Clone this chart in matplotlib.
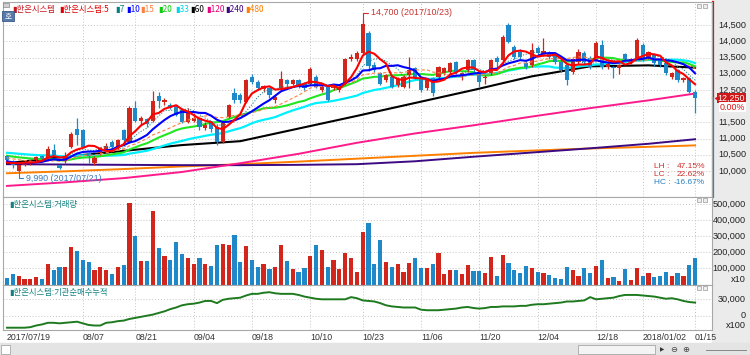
import numpy as np
import pandas as pd
import matplotlib
matplotlib.use('Agg')
import matplotlib.pyplot as plt
from matplotlib.patches import Rectangle
from matplotlib.transforms import blended_transform_factory

plt.rcParams['font.family'] = ['Noto Sans CJK KR', 'DejaVu Sans']
NUM = ['Liberation Sans', 'DejaVu Sans']

# ---- daily candles 2017/07/19 .. 2018/01/15 (119 trading days) ----
open_ = [10450, 10300, 10000, 10200, 10220, 10350, 10470, 10400, 10650, 10180,
         10300, 10750, 11300, 11250, 10550, 10250, 10550, 10650, 10900, 10700,
         11250, 10900, 11950, 11550, 11600, 11550, 12300, 12140, 12050, 12000,
         11880, 11520, 11550, 11620, 11320, 11500, 11370, 10900, 11680, 12400,
         12340, 12140, 12900, 12750, 12520, 12550, 12190, 12550, 12800, 12700,
         12800, 12700, 12700, 12900, 12500, 12600, 12550, 12500, 12700, 13450,
         13470, 13630, 14250, 13270, 13010, 12800, 12900, 12650, 12600, 12960,
         13170, 12800, 12550, 12860, 12910, 13020, 13060, 13370, 12960, 13120,
         13420, 13010, 12860, 13010, 13480, 13430, 14500, 13840, 13680, 13320,
         13270, 13790, 13600, 13630, 13580, 13370, 13270, 13050, 13370, 13630,
         13480, 13430, 13890, 13220, 13220, 13170, 13600, 13370, 13480, 13890,
         13530, 13580, 13430, 13320, 12910, 13110, 12810, 12860, 12450]
high = [10500, 10350, 10200, 10300, 10330, 10450, 10500, 10780, 10830, 10200,
        10600, 11200, 11650, 11300, 10600, 10450, 10750, 10850, 10950, 11000,
        11300, 12000, 12150, 11700, 11650, 12480, 12450, 12250, 12100, 12050,
        11950, 11950, 11800, 11650, 11500, 11550, 11450, 11500, 12080, 12550,
        12400, 12850, 13000, 12800, 12650, 12600, 12350, 13100, 12850, 12850,
        12850, 12750, 13200, 12950, 12650, 12650, 12700, 12700, 13500, 13600,
        13700, 14700, 14330, 13350, 13050, 13000, 12950, 12900, 12950, 13530,
        13200, 12850, 12850, 12900, 13250, 13200, 13350, 13400, 13050, 13450,
        13450, 13050, 12950, 13450, 13550, 14200, 14580, 13900, 13750, 13400,
        13940, 13850, 14100, 13700, 13650, 13450, 13300, 13500, 13750, 13700,
        13550, 14000, 14040, 13400, 13250, 13300, 13650, 13500, 14100, 13950,
        13700, 13650, 13450, 13350, 13050, 13150, 12900, 12900, 12500]
low = [10300, 10100, 9990, 10150, 10180, 10300, 10350, 10350, 10450, 10050,
       10250, 10700, 10800, 10700, 10250, 10200, 10500, 10600, 10700, 10650,
       10800, 10850, 11500, 11450, 11350, 11500, 11950, 12050, 11900, 11700,
       11480, 11480, 11500, 11250, 11250, 11200, 10800, 10850, 11650, 12100,
       12100, 12100, 12700, 12500, 12450, 12250, 12100, 12500, 12600, 12650,
       12550, 12500, 12650, 12550, 12450, 12150, 12500, 12450, 12650, 13400,
       13400, 13600, 13100, 13050, 12650, 12750, 12550, 12600, 12550, 12550,
       12850, 12450, 12500, 12300, 12850, 12950, 13000, 13000, 12800, 13050,
       13050, 12600, 12700, 12950, 13220, 13400, 13950, 13450, 13450, 13150,
       13200, 13550, 13550, 13450, 13300, 13050, 12650, 13000, 13300, 13300,
       13150, 13400, 13150, 13150, 12860, 13000, 13400, 13300, 13450, 13400,
       13450, 13250, 13200, 12950, 12850, 12750, 12750, 12400, 11780]
close = [10350, 10180, 10180, 10280, 10300, 10420, 10400, 10680, 10500, 10100,
         10460, 11150, 11100, 10750, 10450, 10400, 10700, 10780, 10750, 10950,
         10950, 11950, 11550, 11650, 11450, 12150, 12150, 12190, 11930, 11730,
         11520, 11800, 11650, 11370, 11420, 11300, 10900, 11470, 12030, 12190,
         12190, 12800, 12750, 12550, 12620, 12350, 12290, 12830, 12700, 12800,
         12600, 12550, 13150, 12600, 12600, 12190, 12650, 12650, 13450, 13530,
         13630, 14550, 13250, 13120, 12700, 12950, 12600, 12850, 12900, 13120,
         12900, 12500, 12800, 12400, 13220, 13170, 13320, 13060, 13020, 13430,
         13120, 12760, 12910, 13420, 13370, 14150, 13990, 13530, 13530, 13220,
         13730, 13630, 13700, 13530, 13370, 13120, 12810, 13450, 13680, 13370,
         13220, 13960, 13220, 13300, 13170, 13270, 13450, 13470, 14040, 13480,
         13680, 13320, 13270, 13010, 13010, 12810, 12860, 12450, 12250]
# displayed volume (chart unit x10)
volume = [39000, 65000, 56000, 35000, 35000, 45000, 35000, 126000, 89000, 108000,
          110000, 234000, 206000, 154000, 141000, 93000, 108000, 89000, 65000, 110000,
          119000, 509000, 299000, 147000, 147000, 457000, 227000, 180000, 154000, 262000,
          190000, 165000, 126000, 165000, 126000, 115000, 245000, 253000, 249000, 310000,
          143000, 240000, 154000, 106000, 128000, 97000, 108000, 249000, 147000, 97000,
          78000, 102000, 180000, 245000, 216000, 106000, 154000, 97000, 197000, 165000,
          78000, 327000, 385000, 126000, 277000, 141000, 108000, 130000, 76000, 136000,
          167000, 104000, 104000, 130000, 197000, 65000, 93000, 89000, 65000, 121000,
          82000, 82000, 69000, 171000, 56000, 184000, 134000, 89000, 69000, 117000,
          104000, 76000, 69000, 61000, 43000, 37000, 110000, 93000, 50000, 104000,
          69000, 117000, 152000, 39000, 48000, 24000, 95000, 26000, 104000, 56000,
          69000, 48000, 54000, 76000, 56000, 69000, 56000, 121000, 165000]
# institutional net buying, cumulative (chart unit x100)
inst_cum = [-22000, -22000, -22000, -22000, -21000, -18000, -16000, -13000, -13000, -14000,
            -13000, -12000, -11000, -14000, -17000, -18000, -18000, -13000, -12000, -10000,
            -9000, -6000, -4000, -2000, 0, 2000, 5000, 8000, 12000, 15000,
            19000, 21000, 22000, 24000, 27000, 27000, 23000, 29000, 31000, 32000,
            33000, 37000, 40000, 40000, 42000, 43000, 41000, 40000, 40000, 40000,
            38000, 35000, 33000, 31000, 30000, 30000, 30000, 30000, 30000, 34000,
            32000, 28000, 27000, 26000, 23000, 19000, 17000, 16000, 15000, 15000,
            15000, 11000, 10000, 10000, 10000, 11000, 12000, 13000, 15000, 16000,
            14000, 13000, 14000, 16000, 16000, 17000, 17000, 17000, 18000, 18000,
            20000, 21000, 21000, 22000, 23000, 24000, 26000, 26000, 27000, 28000,
            34000, 30000, 31000, 32000, 33000, 36000, 38000, 38000, 38000, 37000,
            36000, 35000, 33000, 31000, 32000, 30000, 27000, 25000, 24000]
# closes before 2017/07/19, only used to start the short moving averages
pre_close = [10650, 10700, 10750, 10800, 10750, 10700, 10650, 10700, 10750, 10700,
             10650, 10650, 10700, 10700, 10650, 10600, 10650, 10700, 10650, 10600,
             10600, 10650, 10600, 10500, 10400, 10350, 10250, 10200, 10250, 10200,
             10200, 10300]
# long moving averages at every 10th candle
long_idx = [0, 10, 20, 30, 40, 50, 60, 70, 80, 90, 100, 110, 118]
ma60 = [10240, 10440, 10620, 10800, 10920, 11310, 11700, 12100, 12500, 12920, 13230, 13260, 13190]
ma120 = [9540, 9650, 9780, 9970, 10240, 10530, 10870, 11160, 11410, 11680, 11940, 12180, 12390]
ma240 = [10210, 10200, 10190, 10180, 10180, 10190, 10210, 10300, 10440, 10570, 10700, 10840, 10980]
ma480 = [9930, 9990, 10060, 10140, 10210, 10290, 10380, 10470, 10560, 10630, 10695, 10745, 10790]

tick_idx = [0, 13, 22, 32, 42, 52, 61, 71, 81, 91, 101, 109, 118]
tick_lbl = ['2017/07/19', '08/07', '08/21', '09/04', '09/18', '10/10', '10/23',
            '11/06', '11/20', '12/04', '12/18', '2018/01/02', '01/15']
price_ticks = [10000, 10500, 11000, 11500, 12000, 12500, 13000, 13500, 14000, 14500]
vol_ticks = [100000, 200000, 300000, 400000, 500000]
inst_ticks = [0, 30000]

RED = '#d2261d'
BLUE = '#1f88c9'
GRID = '#c4c4c4'

W, H = 750, 355
def box(l, t, r, b):
    return [l / W, 1 - b / H, (r - l) / W, (b - t) / H]
def fx(p):
    return p / W
def fy(p):
    return 1 - p / H

fig = plt.figure(figsize=(7.5, 3.55), dpi=100, facecolor='white')
fig.patches.append(Rectangle((fx(712), fy(343)), fx(750) - fx(712), fy(0) - fy(343),
                             transform=fig.transFigure, color='#ebebeb', zorder=-2))
fig.patches.append(Rectangle((0, 0), 1, fy(343), transform=fig.transFigure,
                             color='#e4e4e4', zorder=-2))

ax1 = fig.add_axes(box(3, 2, 712, 196.5))
ax2 = fig.add_axes(box(3, 197, 712, 284.5), sharex=ax1)
ax3 = fig.add_axes(box(3, 285, 712, 330), sharex=ax1)

x = np.arange(len(close))
o = np.array(open_); c = np.array(close)
up = c > o
col = np.where(up, RED, BLUE)

s = pd.Series(pre_close + close, dtype=float)
short_ma = {n: s.rolling(n).mean().iloc[len(pre_close):].to_numpy() for n in (5, 7, 10, 15, 20, 33)}

# long MAs behind everything
ax1.plot(long_idx, ma480, color='#ff8000', lw=1.4, zorder=2)
ax1.plot(long_idx, ma240, color='#3c0a82', lw=1.4, zorder=2)
ax1.plot(long_idx, ma120, color='#ff1a8c', lw=1.4, zorder=2)
ax1.plot(long_idx, ma60, color='black', lw=1.5, zorder=2)
ax1.plot(x, short_ma[33], color='#00f0ff', lw=1.6, zorder=2)
ax1.plot(x, short_ma[20], color='#22e622', lw=1.5, zorder=2)

# candles
ax1.vlines(x, low, high, colors=col, lw=0.9, zorder=3)
body = np.maximum(np.abs(c - o), 25)
ax1.bar(x, body, bottom=np.minimum(o, c), width=0.72, color=col, lw=0, zorder=4)

ax1.plot(x, short_ma[15], color='#ff8040', lw=0.8, ls=(0, (3, 2)), zorder=5)
ax1.plot(x, short_ma[7], color='#2a8c8c', lw=0.8, ls=(0, (1, 1.5)), zorder=5)
ax1.plot(x, short_ma[10], color='#0000ff', lw=1.5, zorder=5)
ax1.plot(x, short_ma[5], color='#ff0000', lw=1.5, zorder=6)

ax1.set_ylim(9213, 15215)
ax1.set_xlim(-0.69, 120.9)

# volume
ax2.bar(x, volume, width=0.72, color=col, lw=0, zorder=3)
ax2.set_ylim(0, 545000)

# institutional cumulative
ax3.plot(x, inst_cum, color='#1e7a1e', lw=1.4, zorder=3)
ax3.set_ylim(-26200, 56200)

for ax, yt in ((ax1, price_ticks), (ax2, vol_ticks), (ax3, inst_ticks)):
    ax.set_yticks(yt)
    ax.set_xticks(tick_idx[1:])
    ax.grid(True, color=GRID, lw=0.7, ls=(0, (1, 2)))
    ax.tick_params(length=0, labelleft=False, labelbottom=False)
    ax.set_axisbelow(True)
    for sp in ax.spines.values():
        sp.set_color('#a8a8a8')
        sp.set_linewidth(0.8)

# right axis labels
def right_labels(ax, vals, texts):
    tr = blended_transform_factory(fig.transFigure, ax.transData)
    for v, t in zip(vals, texts):
        fig.text(fx(746), v, t, transform=tr, ha='right', va='center', fontsize=6.6,
                 family=NUM, color='#222222')

right_labels(ax1, [v for v in price_ticks if v != 12000],
             [f'{v:,}' for v in price_ticks if v != 12000])
right_labels(ax2, vol_ticks, [f'{v:,}' for v in vol_ticks])
right_labels(ax3, inst_ticks, [f'{v:,}' for v in inst_ticks])
fig.text(fx(746), fy(279.5), 'x10', ha='right', va='center', fontsize=6.6, family=NUM, color='#222222')
fig.text(fx(746), fy(325), 'x100', ha='right', va='center', fontsize=6.6, family=NUM, color='#222222')

# current price marker
last = close[-1]
yt = ax1.get_yaxis_transform()
ax1.plot([1.002, 1.002], [last, 15215], transform=yt, color='#e01010', lw=1.6, clip_on=False)
ax1.plot([1.002, 1.002], [9213, last], transform=yt, color='#1f88c9', lw=1.6, clip_on=False)
tr1 = blended_transform_factory(fig.transFigure, ax1.transData)
ax1.plot([fx(718)], [last], marker='<', ms=4, color='#e01010', transform=tr1, clip_on=False)
fig.text(fx(745), last, f'{last:,}', transform=tr1, ha='right', va='center', fontsize=6.4,
         family=NUM, color='white', bbox=dict(boxstyle='square,pad=0.08', fc='#d01818', ec='none'))
fig.text(fx(745), fy(107), '0.00%', ha='right', va='center', fontsize=6.4, family=NUM,
         color='#e01010', bbox=dict(boxstyle='square,pad=0.08', fc='white', ec='none'))

# high / low annotations
hi_i = int(np.argmax(high)); lo_i = int(np.argmin(low))
ax1.annotate(f'{max(high):,} (2017/10/23)', xy=(hi_i, max(high)), xytext=(8, 6),
             textcoords='offset pixels', va='center', ha='left', fontsize=6.4, family=NUM,
             color='#c83232', arrowprops=dict(arrowstyle='-', color='#c83232', lw=0.8,
                                              connectionstyle='angle,angleA=0,angleB=90,rad=0',
                                              shrinkA=0, shrinkB=0))
ax1.annotate(f'{min(low):,} (2017/07/21)', xy=(lo_i, min(low)), xytext=(7, -7),
             textcoords='offset pixels', va='center', ha='left', fontsize=6.4, family=NUM,
             color='#3a7ab8', arrowprops=dict(arrowstyle='-', color='#3a7ab8', lw=0.8,
                                              connectionstyle='angle,angleA=0,angleB=90,rad=0',
                                              shrinkA=0, shrinkB=0))

lh = max(high) / min(low) * 100 - 100
lc = last / min(low) * 100 - 100
hc = last / max(high) * 100 - 100
for k, (name, val, cc) in enumerate([('LH', lh, '#d03030'), ('LC', lc, '#d03030'), ('HC', hc, '#2a80c0')]):
    fig.text(fx(654), fy(166 + 8 * k), f'{name} :', ha='left', va='center',
             fontsize=6, family=NUM, color=cc)
    fig.text(fx(705), fy(166 + 8 * k), f'{val:.2f}%', ha='right', va='center',
             fontsize=6, family=NUM, color=cc)

# legend strip
legend_items = [('▮한온시스템', '#c8161d'), ('▮한온시스템:5', '#e00000'), ('▮7', '#008080'),
                ('▮10', '#0000ff'), ('▮15', '#ff8040'), ('▮20', '#10cc10'), ('▮33', '#00d8e8'),
                ('▮60', '#000000'), ('▮120', '#e8007f'), ('▮240', '#400080'), ('▮480', '#ff8000')]
legend_x = [12, 59, 115, 126, 140, 158, 175, 190, 206, 225, 245]
for (t, cc), lx in zip(legend_items, legend_x):
    fig.text(fx(lx), fy(9.5), t, ha='left', va='center', fontsize=6, color=cc)

fig.patches.append(Rectangle((fx(2), fy(21)), fx(12), fy(11) - fy(21), transform=fig.transFigure,
                             fc='#5779a8', ec='#3c5a88', lw=0.6, zorder=5))
fig.text(fx(8), fy(16), '호', ha='center', va='center', fontsize=5.5, color='white', zorder=6)
fig.patches.append(Rectangle((fx(3), fy(7)), fx(6), fy(3) - fy(7), transform=fig.transFigure,
                             fc='#d0d0d0', ec='#888888', lw=0.5, zorder=5))

fig.text(fx(9), fy(204), '▮한온시스템:거래량', ha='left', va='center', fontsize=6, color='#148282')
fig.text(fx(9), fy(292), '▮한온시스템:기관순매수누적', ha='left', va='center', fontsize=6, color='#148282')

# little panel buttons
for ty in (4, 198, 286):
    for bx in (697, 703):
        fig.patches.append(Rectangle((fx(bx), fy(ty + 4)), fx(4), fy(ty) - fy(ty + 4),
                                     transform=fig.transFigure, fc='#eeeeee', ec='#999999',
                                     lw=0.5, zorder=5))

# date labels
trd = blended_transform_factory(ax3.transData, fig.transFigure)
for i, t in zip(tick_idx, tick_lbl):
    fig.text(i, fy(337.5), t, transform=trd, ha='left', va='center', fontsize=6.3, family=NUM,
             color='#333333')

# bottom scroll strip
fig.patches.append(Rectangle((fx(1), fy(354)), fx(9), fy(345) - fy(354), transform=fig.transFigure,
                             fc='white', ec='#999999', lw=0.5, zorder=5))
fig.text(fx(5.5), fy(349.5), '◀', ha='center', va='center', fontsize=4, family='DejaVu Sans', color='#333333')
fig.patches.append(Rectangle((fx(578), fy(354)), fx(77), fy(345) - fy(354), transform=fig.transFigure,
                             fc='#f4f4f4', ec='#999999', lw=0.5, zorder=5))
fig.text(fx(662), fy(349.5), '▶', ha='center', va='center', fontsize=4, family='DejaVu Sans', color='#333333')
fig.text(fx(674), fy(349.5), '⊖', ha='center', va='center', fontsize=6, family='DejaVu Sans', color='#444444')
fig.text(fx(686), fy(349.5), '⊕', ha='center', va='center', fontsize=6, family='DejaVu Sans', color='#444444')
fig.lines.append(plt.Line2D([fx(706), fx(746)], [fy(350), fy(350)], transform=fig.transFigure,
                            color='#777777', lw=0.6))

fig.savefig('out.png', dpi=100, facecolor=fig.get_facecolor())
